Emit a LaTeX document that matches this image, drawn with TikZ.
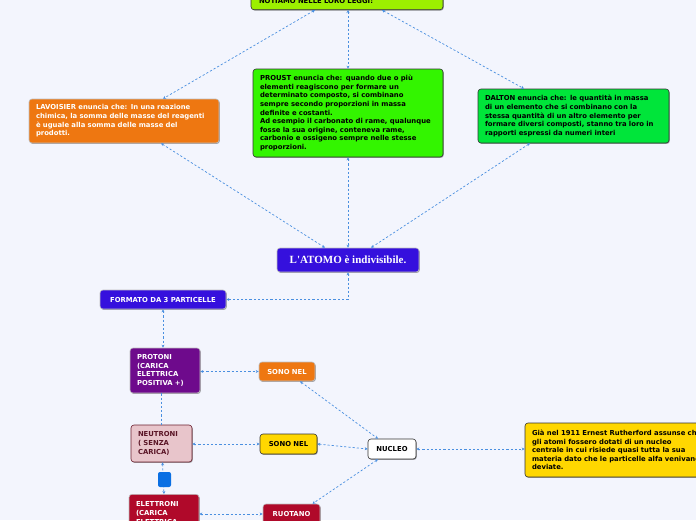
\documentclass[tikz,border=0pt]{standalone}
\usepackage{fontspec}
\setmainfont{DejaVu Sans}
\newfontfamily\atomfont{Liberation Serif}
\usetikzlibrary{arrows.meta,shadows,calc}
\definecolor{bgc}{HTML}{F3F5FD}
\definecolor{lime}{HTML}{9CF000}
\definecolor{proustg}{HTML}{33F500}
\definecolor{daltong}{HTML}{00E53A}
\definecolor{orangec}{HTML}{EE7711}
\definecolor{bluec}{HTML}{3510DD}
\definecolor{purplec}{HTML}{6E0A8C}
\definecolor{pinkc}{HTML}{E8C5CB}
\definecolor{pinkb}{HTML}{6B1E2E}
\definecolor{pinkt}{HTML}{5A1526}
\definecolor{yellowc}{HTML}{FFD700}
\definecolor{crimson}{HTML}{B0092A}
\definecolor{blobc}{HTML}{0A6FE3}
\definecolor{connc}{HTML}{4A8FE0}
\tikzset{
  box/.style={rounded corners=3pt, line width=0.6pt, inner sep=0pt,
    font=\fontsize{6.85}{8.6}\selectfont\bfseries,
    drop shadow={shadow xshift=0.8pt, shadow yshift=-0.9pt, opacity=0.35, fill=black}},
  darkbox/.style={box, draw=black!80, text=black},
  lightbox/.style={box, draw=white!75!black, text=white},
  conn/.style={draw=connc, line width=0.7pt, dash pattern=on 2.2pt off 2pt,
    {Stealth[length=3pt,width=3pt]}-{Stealth[length=3pt,width=3pt]}},
  plain/.style={draw=connc, line width=0.7pt, dash pattern=on 2.2pt off 2pt}
}
\begin{document}
\begin{tikzpicture}[x=1pt,y=-1pt]
\useasboundingbox (0,0) rectangle (696,520);
\fill[bgc] (0,0) rectangle (696,520);
\clip (0,0) rectangle (696,520);

\node[darkbox, fill=lime, minimum width=192, minimum height=18, text width=176, align=left, anchor=south] (top) at (347,10) {NOTIAMO NELLE LORO LEGGI:};

\node[lightbox, fill=orangec, minimum width=190, minimum height=44, text width=176, align=left] (lav) at (124,121)
 {LAVOISIER enuncia che: In una reazione\\chimica, la somma delle masse del reagenti\\è uguale alla somma delle masse del\\prodotti.};

\node[darkbox, fill=proustg, minimum width=190, minimum height=88, text width=176, align=left] (proust) at (348,113)
 {PROUST enuncia che: quando due o più\\elementi reagiscono per formare un\\determinato composto, si combinano\\sempre secondo proporzioni in massa\\definite e costanti.\\Ad esempio il carbonato di rame, qualunque\\fosse la sua origine, conteneva rame,\\carbonio e ossigeno sempre nelle stesse\\proporzioni.};

\node[darkbox, fill=daltong, minimum width=191, minimum height=54, text width=177, align=left] (dalton) at (573.5,116)
 {DALTON enuncia che: le quantità in massa\\di un elemento che si combinano con la\\stessa quantità di un altro elemento per\\formare diversi composti, stanno tra loro in\\rapporti espressi da numeri interi};

\node[lightbox, fill=bluec, minimum width=142, minimum height=24, font=\atomfont\fontsize{11}{12}\selectfont\bfseries] (atomo) at (348,260) {L'ATOMO è indivisibile.};

\node[lightbox, fill=bluec, minimum width=126, minimum height=19] (formato) at (163,299.5) {FORMATO DA 3 PARTICELLE};

\node[lightbox, fill=purplec, minimum width=70, minimum height=45, text width=56, align=left] (protoni) at (165,370.5)
 {PROTONI\\(CARICA\\ELETTRICA\\POSITIVA +)};

\node[lightbox, fill=orangec, minimum width=56, minimum height=19] (sono1) at (287,371.5) {SONO NEL};

\node[box, draw=pinkb, fill=pinkc, text=pinkt, minimum width=61, minimum height=37, text width=47, align=left] (neutroni) at (161.5,443.5)
 {NEUTRONI\\( SENZA\\CARICA)};

\node[darkbox, fill=yellowc, minimum width=57, minimum height=20] (sono2) at (288.5,444) {SONO NEL};

\node[darkbox, fill=white, minimum width=48, minimum height=20] (nucleo) at (392,449) {NUCLEO};

\node[darkbox, fill=yellowc, minimum width=195, minimum height=54, text width=181, align=left] (ruth) at (622.5,450)
 {Già nel 1911 Ernest Rutherford assunse che\\gli atomi fossero dotati di un nucleo\\centrale in cui risiede quasi tutta la sua\\materia dato che le particelle alfa venivano\\deviate.};

\node[lightbox, fill=crimson, minimum width=70, minimum height=46, text width=56, align=left, anchor=north] (elettroni) at (164,494)
 {\rule{0pt}{6pt}ELETTRONI\\(CARICA\\ELETTRICA\\NEGATIVA -)};

\node[lightbox, fill=crimson, minimum width=57, minimum height=20] (ruotano) at (291.5,514) {RUOTANO};

% connectors
\draw[conn] ([xshift=-32]top.south) -- ([xshift=39]lav.north);
\draw[conn] ([xshift=1]top.south) -- (proust.north);
\draw[conn] ([xshift=35]top.south) -- ([xshift=-49.5]dalton.north);
\draw[conn] ([xshift=37]lav.south) -- ([xshift=-23]atomo.north);
\draw[conn] (proust.south) -- (atomo.north);
\draw[conn] ([xshift=-43.5]dalton.south) -- ([xshift=23]atomo.north);
\draw[conn] (atomo.south) |- (formato.east);
\draw[conn] (formato.south) -- (formato.south |- protoni.north);
\draw[plain] (protoni.south -| neutroni.north) -- (neutroni.north);
\draw[conn] (protoni.east |- sono1.west) -- (sono1.west);
\draw[conn] (neutroni.east |- sono2.west) -- (sono2.west);
\draw[conn] (sono2.east) -- (nucleo.west);
\draw[conn] ([xshift=13]sono1.south) -- ([xshift=-14]nucleo.north);
\draw[conn] ([xshift=-14]nucleo.south) -- ([xshift=21]ruotano.north);
\draw[conn] (nucleo.east) -- (ruth.west |- nucleo.east);
\draw[conn] ([xshift=1]neutroni.south) -- (elettroni.north);
\draw[conn] (elettroni.east |- ruotano.west) -- (ruotano.west);

\node[fill=blobc, rounded corners=2pt, minimum width=13, minimum height=15, inner sep=0pt] (blob) at (164.5,479.5) {};
\end{tikzpicture}
\end{document}
